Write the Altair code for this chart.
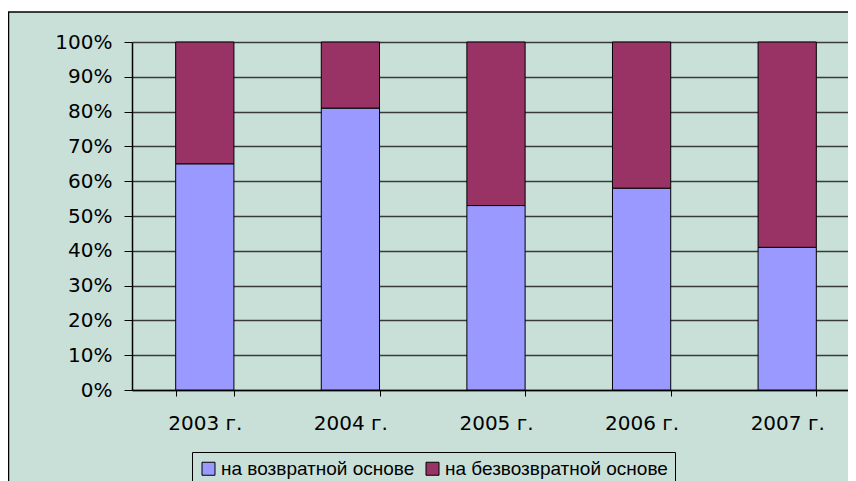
import altair as alt
import pandas as pd

years = ["2003 г.", "2004 г.", "2005 г.", "2006 г.", "2007 г."]
returnable = [65, 81, 53, 58, 41]
nonreturnable = [35, 19, 47, 42, 59]
series = ["на возвратной основе", "на безвозвратной основе"]
colors = ["#9999FF", "#993366"]
y_ticks = [0, 10, 20, 30, 40, 50, 60, 70, 80, 90, 100]

BG = "#C9E0D9"
FONT = "DejaVu Sans"

rows = []
for i, y in enumerate(years):
    rows.append({"year": y, "series": series[0], "value": returnable[i], "ord": 0})
    rows.append({"year": y, "series": series[1], "value": nonreturnable[i], "ord": 1})
df = pd.DataFrame(rows)

W, H = 728, 348

bars = alt.Chart(df).mark_bar(stroke="black", strokeWidth=1).encode(
    x=alt.X("year:N", sort=years, title=None,
            scale=alt.Scale(paddingInner=0.6, paddingOuter=0.3),
            axis=alt.Axis(labelAngle=0, tickBand="extent", tickSize=6,
                          tickColor="black", domainColor="black", domainWidth=1.5,
                          labelPadding=17, labelFontSize=20, labelFont=FONT,
                          labelColor="black", grid=False)),
    y=alt.Y("value:Q", stack="zero", title=None,
            scale=alt.Scale(domain=[0, 100], nice=False),
            axis=alt.Axis(values=y_ticks, labelExpr="datum.value + '%'",
                          tickSize=8, tickColor="black", domainColor="black",
                          domainWidth=1.5, labelPadding=12, labelFontSize=20,
                          labelFont=FONT, labelColor="black",
                          grid=True, gridColor="#3a3a3a", gridWidth=1.5)),
    color=alt.Color("series:N", sort=series,
                    scale=alt.Scale(domain=series, range=colors),
                    legend=alt.Legend(title=None, orient="none", direction="horizontal",
                                      legendX=60, legendY=410,
                                      symbolType="square", symbolSize=169,
                                      symbolStrokeColor="black", symbolStrokeWidth=1,
                                      symbolOpacity=1, labelLimit=0,
                                      labelFontSize=19, labelFont="Liberation Sans",
                                      labelColor="black",
                                      labelOffset=3, columnPadding=8, padding=7,
                                      strokeColor="black", fillColor=BG)),
    order=alt.Order("ord:Q", sort="ascending"),
)

deco = pd.DataFrame({"d": [0]})
white_strip = alt.Chart(deco).mark_rect(fill="white", strokeWidth=0).encode(
    x=alt.value(-124), x2=alt.value(W), y=alt.value(-34), y2=alt.value(-30))
top_border = alt.Chart(deco).mark_rule(color="black", strokeWidth=1.5).encode(
    x=alt.value(-124), x2=alt.value(W), y=alt.value(-30))
left_border = alt.Chart(deco).mark_rule(color="black", strokeWidth=1.5).encode(
    x=alt.value(-123.5), y=alt.value(-30), y2=alt.value(H + 200))

chart = alt.layer(bars, white_strip, top_border, left_border).properties(
    width=W, height=H,
    autosize=alt.AutoSizeParams(type="none"),
    padding={"left": 124, "top": 34, "right": -12, "bottom": 91},
    background=BG,
).configure_view(strokeWidth=0)

chart.save("out.html", embed_options={"renderer": "svg", "actions": False})
